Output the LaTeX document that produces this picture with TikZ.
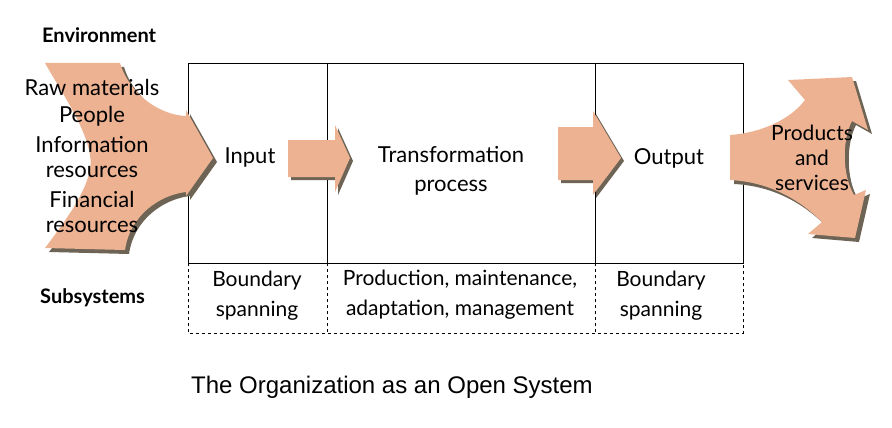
\documentclass[tikz,border=0pt]{standalone}
\usepackage{fontspec}
\setmainfont{Lato}
\newfontfamily\arialf{Liberation Sans}
\begin{document}
\begin{tikzpicture}[x=1pt,y=-1pt,
  fillc/.style={fill=arrc},
  shad/.style={fill=shadc},
  lbl/.style={font=\fontsize{22}{25}\selectfont,align=center,inner sep=0pt},
  sub/.style={font=\fontsize{21}{30}\selectfont,align=center,inner sep=0pt},
  hdr/.style={font=\bfseries\fontsize{20}{22}\selectfont,inner sep=0pt}]
\definecolor{arrc}{RGB}{236,178,146}
\definecolor{shadc}{RGB}{110,100,85}
\useasboundingbox (0,0) rectangle (892,428);
\draw[thin] (188,63) rectangle (743,263);
\draw[thin] (327,63) -- (327,263);
\draw[thin] (595,63) -- (595,263);
\draw[thin,dashed] (188,263) -- (188,333) -- (743,333) -- (743,263);
\draw[thin,dashed] (327,263) -- (327,333);
\draw[thin,dashed] (595,263) -- (595,333);
\def\leftarr{(45,63) -- (120,63) .. controls (130,95) and (160,115) .. (186,116) -- (186,110) -- (213,158) -- (186,196) -- (186,192) .. controls (160,195) and (130,215) .. (125,250) -- (45,248) .. controls (70,215) and (95,180) .. (90,155) .. controls (85,125) and (60,90) .. (45,63) -- cycle}
\fill[shad,shift={(4,4)}] \leftarr;
\fill[fillc] \leftarr;
\def\arrA{(288,140) -- (335,140) -- (335,125) -- (350,158) -- (335,192) -- (335,177) -- (288,177) -- cycle}
\fill[shad,shift={(3,3)}] \arrA;
\fill[fillc] \arrA;
\def\arrB{(558,127) -- (593,127) -- (593,111) -- (621,158) -- (593,195) -- (593,180) -- (558,180) -- cycle}
\fill[shad,shift={(3,3)}] \arrB;
\fill[fillc] \arrB;
\def\rightarr{(730,135) .. controls (760,133) and (790,120) .. (805,100) -- (788,80) -- (852,77) -- (868,130) -- (852,121) .. controls (842,140) and (842,175) .. (854,195) -- (866,190) -- (855,238) -- (808,234) -- (822,222) .. controls (800,200) and (770,182) .. (730,180) -- cycle}
\fill[shad,shift={(4,4)}] \rightarr;
\fill[fillc] \rightarr;
\node[hdr,anchor=west] (env) at (42,35) {Environment};
\node[hdr,anchor=west] (subs) at (40,298) {Subsystems};
\node[lbl] (raw) at (92,87) {Raw materials};
\node[lbl] (ppl) at (92,116) {People};
\node[lbl] (inf) at (92,157) {Information\\resources};
\node[lbl] (fin) at (92,212) {Financial\\resources};
\node[lbl] (inp) at (250,158) {Input};
\node[lbl,font=\fontsize{22}{29}\selectfont] (tr) at (451,171) {Transformation\\process};
\node[lbl] (out) at (669,158) {Output};
\node[lbl,font=\fontsize{21}{25}\selectfont] (ps) at (812,158) {Products\\and\\services};
\node[sub] (b1) at (257,296) {Boundary\\spanning};
\node[sub] (pm) at (460,295) {Production, maintenance,\\adaptation, management};
\node[sub] (b2) at (661,296) {Boundary\\spanning};
\node[inner sep=0pt,font=\arialf\fontsize{24}{26}\selectfont] (title) at (392,387) {The Organization as an Open System};
\end{tikzpicture}
\end{document}
